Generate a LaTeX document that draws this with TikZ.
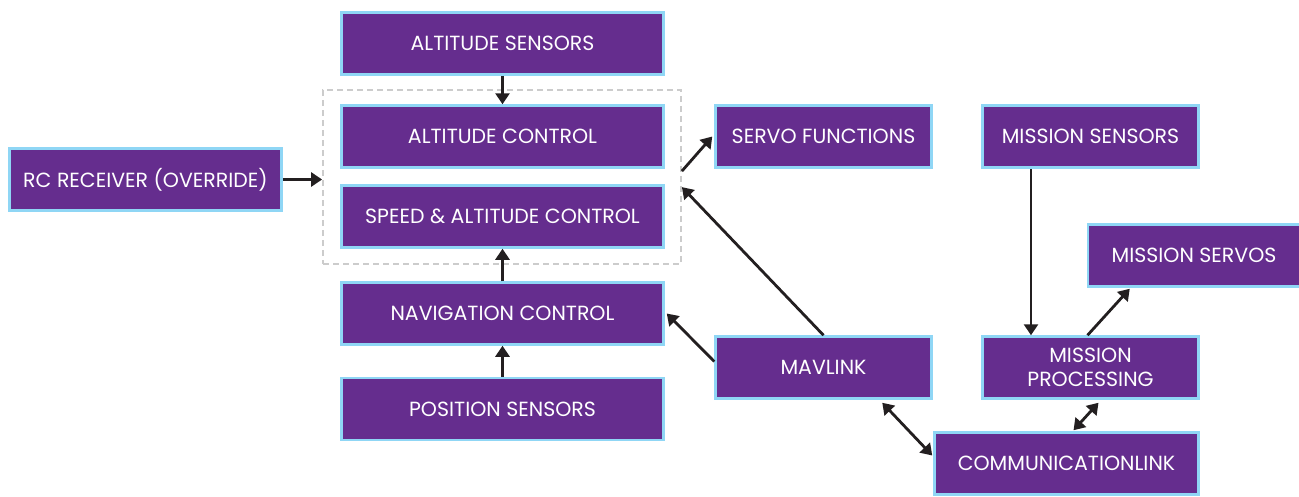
\documentclass[tikz,border=0pt]{standalone}
\usepackage{fontspec}
\setmainfont{Poppins}
\usetikzlibrary{arrows.meta,calc}
\definecolor{boxfill}{HTML}{652D8E}
\definecolor{boxedge}{HTML}{8FD6F5}
\definecolor{groupline}{HTML}{CCCCCC}
\definecolor{arrowcol}{HTML}{231F20}
\begin{document}
\begin{tikzpicture}[x=1pt,y=-1pt,
  box/.style={draw=boxedge, fill=boxfill, line width=2.5pt, text=white,
    inner sep=0pt, align=center, minimum height=62pt,
    font=\fontsize{20.5}{24.5}\selectfont},
  wide/.style={box, minimum width=322pt},
  mid/.style={box, minimum width=216pt},
  conn/.style={draw=arrowcol, line width=2.8pt,
    -{Triangle[width=14pt,length=11pt]}},
  biconn/.style={draw=arrowcol, line width=2.8pt,
    {Triangle[width=14pt,length=11pt]}-{Triangle[width=14pt,length=11pt]}}]
\useasboundingbox (0,0) rectangle (1299,496);

% flight control chain
\node[wide] (asens)  at (502.5,43.5)  {ALTITUDE SENSORS};
\node[wide] (actrl)  at (502.5,136.5) {ALTITUDE CONTROL};
\node[wide] (sactrl) at (502.5,216.5) {SPEED \& ALTITUDE CONTROL};
\node[wide] (nav)    at (502.5,313.5) {NAVIGATION CONTROL};
\node[wide] (psens)  at (502.5,409)   {POSITION SENSORS};

% dashed group around the two control blocks
\node[draw=groupline, dashed, dash pattern=on 6pt off 4pt, line width=1.8pt,
  inner sep=0pt, minimum width=358pt, minimum height=174pt] (grp) at (502,177) {};

\node[box, minimum width=272pt] (rc) at (145.5,179.5) {RC RECEIVER (OVERRIDE)};
\node[mid] (servo) at (823.5,136.5) {SERVO FUNCTIONS};
\node[mid] (mav)   at (823.5,367.5) {MAVLINK};
\node[mid] (msens) at (1090.5,136.5) {MISSION SENSORS};
\node[box, minimum width=212pt] (mservo) at (1194,255.5) {MISSION SERVOS};
\node[mid] (mproc) at (1090.5,367.5) {MISSION\\PROCESSING};
\node[box, minimum width=264pt] (comm) at (1066.5,463.5) {COMMUNICATIONLINK};

% connectors
\draw[conn] (asens.south) -- (actrl.north);
\draw[conn] (nav.north) -- (sactrl.south);
\draw[conn] (psens.north) -- (nav.south);
\draw[conn] (rc.east) -- (rc.east -| grp.west);
\draw[conn] ($(grp.north east)+(0,82)$) -- ($(servo.west)+(-2,0)$);
\draw[conn] (mav.north) -- ($(grp.north east)+(0,98)$);
\draw[conn] ($(mav.west)+(0,-6)$) -- ($(nav.east)+(2,0)$);
\draw[conn] (msens.south -| 1031,0) -- (mproc.north -| 1031,0);
\draw[conn] ($(mproc.north)+(-3,0)$) -- ($(mservo.south west)+(43,1)$);
\draw[biconn] ($(mav.south west)+(168,3)$) -- ($(comm.west)+(-1,-8)$);
\draw[biconn] ($(mproc.south)+(8,3)$) -- ($(comm.north)+(7,-1)$);
\end{tikzpicture}
\end{document}
